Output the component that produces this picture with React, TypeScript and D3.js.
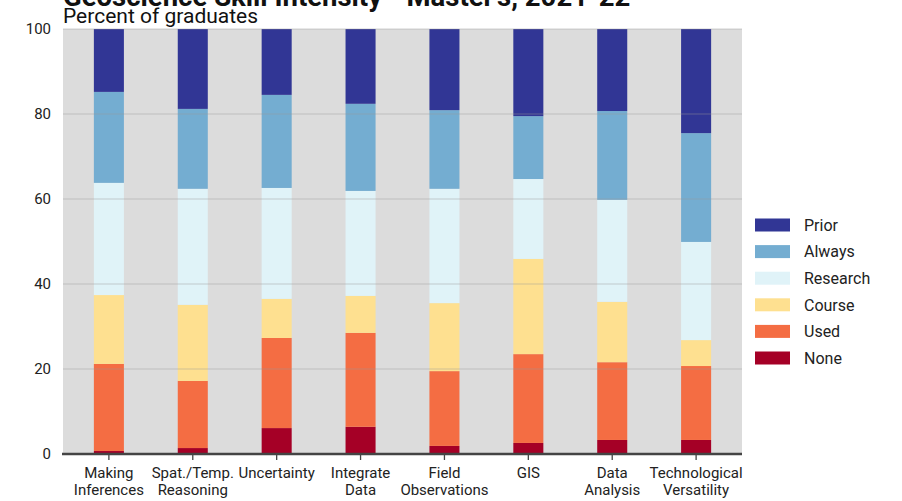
import React from "react";
import * as d3 from "d3";

const categories = [
  "Making\nInferences",
  "Spat./Temp.\nReasoning",
  "Uncertainty",
  "Integrate\nData",
  "Field\nObservations",
  "GIS",
  "Data\nAnalysis",
  "Technological\nVersatility",
];

const seriesNames = ["None", "Used", "Course", "Research", "Always", "Prior"];

const noneVals = [0.7, 1.4, 6.1, 6.4, 1.9, 2.6, 3.3, 3.3];
const usedVals = [20.5, 15.8, 21.2, 22.1, 17.6, 20.9, 18.3, 17.4];
const courseVals = [16.2, 17.9, 9.2, 8.7, 16.0, 22.4, 14.2, 6.1];
const researchVals = [26.4, 27.3, 26.1, 24.7, 26.9, 18.8, 24.0, 23.1];
const alwaysVals = [21.4, 18.8, 21.9, 20.5, 18.5, 14.8, 20.9, 25.6];
const priorVals = [14.8, 18.8, 15.5, 17.6, 19.1, 20.5, 19.3, 24.5];

const yTicks = [0, 20, 40, 60, 80, 100];

const colors: Record<string, string> = {
  None: "#a50026",
  Used: "#f46d43",
  Course: "#fee090",
  Research: "#e0f3f8",
  Always: "#74add1",
  Prior: "#313695",
};

const titleText = "Geoscience Skill Intensity - Master's, 2021-22";
const subtitleText = "Percent of graduates";

export default function App() {
  const W = 902;
  const H = 501;
  const left = 63;
  const right = 742;
  const top = 29;
  const bottom = 454;
  const font = "Roboto, sans-serif";

  const valuesBySeries: Record<string, number[]> = {
    None: noneVals,
    Used: usedVals,
    Course: courseVals,
    Research: researchVals,
    Always: alwaysVals,
    Prior: priorVals,
  };

  const rows = categories.map((c, i) => {
    const r: Record<string, any> = { cat: c };
    seriesNames.forEach((s) => (r[s] = valuesBySeries[s][i]));
    return r;
  });

  const stack = d3.stack<any>().keys(seriesNames);
  const stacked = stack(rows as any);

  const x = d3
    .scaleBand<string>()
    .domain(categories)
    .range([left, right])
    .paddingInner(0.642)
    .paddingOuter(0.368);
  const y = d3.scaleLinear().domain([0, 100]).range([bottom, top]);

  const legendOrder = ["Prior", "Always", "Research", "Course", "Used", "None"];

  return (
    <svg
      width={W}
      height={H}
      style={{ position: "absolute", left: 0, top: 0, background: "#fff" }}
      fontFamily={font}
    >
      <rect x={left} y={top} width={right - left} height={bottom - top} fill="#dcdcdc" />
      {stacked.map((layer) => (
        <g key={layer.key} fill={colors[layer.key]}>
          {layer.map((d, i) => (
            <rect
              key={i}
              x={x(categories[i])}
              width={x.bandwidth()}
              y={y(d[1])}
              height={y(d[0]) - y(d[1])}
            />
          ))}
        </g>
      ))}
      {yTicks.map((t) => (
        <g key={t}>
          {t > 0 && (
            <line
              x1={left}
              x2={right}
              y1={y(t)}
              y2={y(t)}
              stroke="#999"
              strokeOpacity={0.45}
              strokeWidth={1.2}
            />
          )}
          <text
            x={51}
            y={y(t)}
            dy="0.36em"
            textAnchor="end"
            fontSize={15}
            fill="#222"
          >
            {t}
          </text>
        </g>
      ))}
      <line x1={left - 1} x2={right} y1={bottom} y2={bottom} stroke="#444" strokeWidth={2.7} />
      {categories.map((c) => {
        const cx = (x(c) as number) + x.bandwidth() / 2;
        const lines = c.split("\n");
        return (
          <g key={c}>
            <line x1={cx} x2={cx} y1={bottom} y2={bottom + 6} stroke="#444" strokeWidth={1.3} />
            {lines.map((ln, j) => (
              <text
                key={j}
                x={cx}
                y={477.5 + j * 17.7}
                textAnchor="middle"
                fontSize={15}
                fill="#222"
              >
                {ln}
              </text>
            ))}
          </g>
        );
      })}
      {legendOrder.map((s, i) => {
        const cy = 225 + i * 26.6;
        return (
          <g key={s}>
            <rect x={755} y={cy - 6.5} width={35} height={13} fill={colors[s]} />
            <text x={804} y={cy} dy="0.36em" fontSize={16} fill="#222">
              {s}
            </text>
          </g>
        );
      })}
      <text x={left} y={6} fontSize={27.5} fontWeight="bold" fill="#111">
        {titleText}
      </text>
      <text x={left} y={22.7} fontSize={21} fill="#111">
        {subtitleText}
      </text>
    </svg>
  );
}
